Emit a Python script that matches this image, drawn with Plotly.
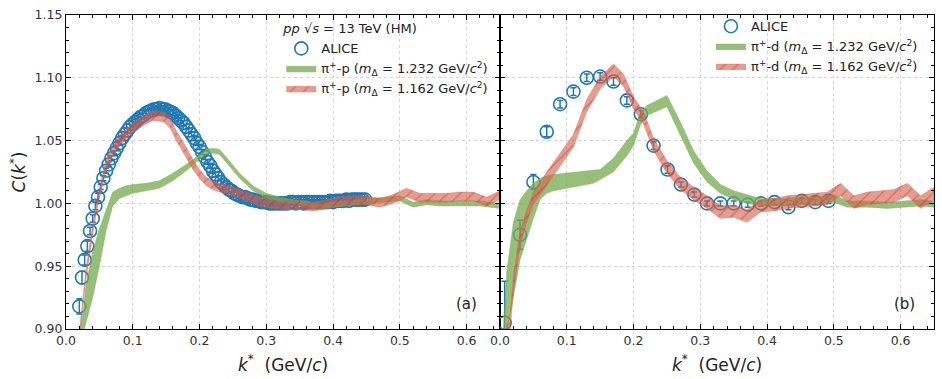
import plotly.graph_objects as go

# ---------------- data: panel (a)  pi+ - p ----------------
k_p = [0.020, 0.024, 0.028, 0.032, 0.036, 0.040, 0.044, 0.048, 0.052, 0.056,
       0.060, 0.064, 0.068, 0.072, 0.076, 0.080, 0.084, 0.088, 0.092, 0.096,
       0.100, 0.104, 0.108, 0.112, 0.116, 0.120, 0.124, 0.128, 0.132, 0.136,
       0.140, 0.144, 0.148, 0.152, 0.156, 0.160, 0.164, 0.168, 0.172, 0.176,
       0.180, 0.184, 0.188, 0.192, 0.196, 0.200, 0.204, 0.208, 0.212, 0.216,
       0.220, 0.224, 0.228, 0.232, 0.236, 0.240, 0.244, 0.248, 0.252, 0.256,
       0.260, 0.264, 0.268, 0.272, 0.276, 0.280, 0.284, 0.288, 0.292, 0.296,
       0.300, 0.304, 0.308, 0.312, 0.316, 0.320, 0.324, 0.328, 0.332, 0.336,
       0.340, 0.344, 0.348, 0.352, 0.356, 0.360, 0.364, 0.368, 0.372, 0.376,
       0.380, 0.384, 0.388, 0.392, 0.396, 0.400, 0.404, 0.408, 0.412, 0.416,
       0.420, 0.424, 0.428, 0.432, 0.436, 0.440, 0.444, 0.448]
c_p = [0.918, 0.941, 0.955, 0.966, 0.978, 0.988, 0.998, 1.005, 1.013, 1.020,
       1.026, 1.031, 1.036, 1.040, 1.044, 1.048, 1.052, 1.055, 1.058, 1.061,
       1.063, 1.065, 1.067, 1.069, 1.070, 1.072, 1.073, 1.074, 1.075, 1.075,
       1.076, 1.075, 1.075, 1.074, 1.073, 1.072, 1.070, 1.068, 1.066, 1.064,
       1.061, 1.058, 1.055, 1.052, 1.048, 1.045, 1.041, 1.037, 1.033, 1.030,
       1.026, 1.023, 1.020, 1.017, 1.015, 1.013, 1.011, 1.010, 1.008, 1.007,
       1.006, 1.005, 1.005, 1.004, 1.003, 1.003, 1.002, 1.002, 1.001, 1.001,
       1.001, 1.000, 1.000, 1.000, 1.000, 1.000, 1.000, 1.000, 1.000, 1.001,
       1.001, 1.000, 1.001, 1.001, 1.000, 1.001, 1.001, 1.001, 1.001, 1.001,
       1.001, 1.001, 1.001, 1.001, 1.002, 1.001, 1.002, 1.002, 1.002, 1.002,
       1.003, 1.002, 1.003, 1.003, 1.003, 1.003, 1.003, 1.003]
e_p = [0.006, 0.005, 0.004, 0.004, 0.003, 0.003, 0.003, 0.003, 0.002, 0.002,
       0.002, 0.002, 0.002, 0.002, 0.002, 0.002, 0.002, 0.002, 0.002, 0.002,
       0.002, 0.002, 0.002, 0.002, 0.002, 0.002, 0.002, 0.002, 0.002, 0.002,
       0.002, 0.002, 0.002, 0.002, 0.002, 0.002, 0.002, 0.002, 0.002, 0.002,
       0.002, 0.002, 0.002, 0.002, 0.002, 0.002, 0.002, 0.002, 0.002, 0.002,
       0.002, 0.002, 0.002, 0.002, 0.002, 0.002, 0.002, 0.002, 0.002, 0.002,
       0.002, 0.002, 0.002, 0.002, 0.002, 0.002, 0.002, 0.002, 0.002, 0.002,
       0.002, 0.002, 0.002, 0.002, 0.002, 0.002, 0.002, 0.002, 0.002, 0.002,
       0.002, 0.002, 0.002, 0.002, 0.002, 0.002, 0.002, 0.002, 0.002, 0.002,
       0.002, 0.002, 0.002, 0.002, 0.002, 0.002, 0.002, 0.002, 0.002, 0.002,
       0.002, 0.002, 0.002, 0.002, 0.002, 0.002, 0.002, 0.002]

# model pi+-p, m_Delta = 1.232 (green band)
kg_p = [0.020, 0.025, 0.030, 0.040, 0.050, 0.060, 0.070, 0.080, 0.090, 0.100,
        0.120, 0.140, 0.160, 0.180, 0.200, 0.210, 0.220, 0.230, 0.240, 0.260,
        0.280, 0.300, 0.320, 0.340, 0.360, 0.380, 0.400, 0.420, 0.440, 0.460,
        0.480, 0.500, 0.520, 0.540, 0.560, 0.580, 0.600, 0.620, 0.650]
g_lo_p = [0.880, 0.895, 0.905, 0.925, 0.950, 0.978, 0.998, 1.004, 1.006, 1.008,
          1.010, 1.012, 1.018, 1.026, 1.035, 1.039, 1.040, 1.039, 1.033, 1.020,
          1.010, 1.004, 1.001, 1.000, 0.998, 0.995, 0.997, 0.998, 0.999, 1.000,
          1.001, 1.002, 0.997, 0.999, 0.998, 0.998, 0.998, 0.998, 0.996]
g_hi_p = [0.895, 0.912, 0.935, 0.962, 0.980, 0.995, 1.009, 1.012, 1.014, 1.015,
          1.016, 1.018, 1.024, 1.031, 1.039, 1.043, 1.044, 1.043, 1.037, 1.024,
          1.014, 1.008, 1.005, 1.003, 1.002, 0.999, 1.001, 1.002, 1.003, 1.004,
          1.005, 1.006, 1.001, 1.003, 1.002, 1.002, 1.002, 1.002, 1.000]

# model pi+-p, m_Delta = 1.162 (red hatched band)
kr_p = [0.020, 0.025, 0.030, 0.036, 0.041, 0.048, 0.060, 0.070, 0.080, 0.090,
        0.100, 0.116, 0.130, 0.146, 0.156, 0.166, 0.171, 0.180, 0.190, 0.200,
        0.210, 0.220, 0.230, 0.240, 0.250, 0.270, 0.290, 0.310, 0.330, 0.350,
        0.370, 0.390, 0.410, 0.430, 0.450, 0.470, 0.490, 0.510, 0.530, 0.550,
        0.570, 0.590, 0.610, 0.630, 0.650]
r_lo_p = [0.890, 0.918, 0.940, 0.961, 0.979, 0.999, 1.027, 1.038, 1.046, 1.051,
          1.056, 1.062, 1.066, 1.065, 1.060, 1.049, 1.045, 1.037, 1.027, 1.020,
          1.014, 1.011, 1.009, 1.008, 1.006, 1.002, 0.998, 0.996, 0.995, 0.995,
          0.994, 0.996, 0.998, 0.999, 0.999, 0.997, 1.000, 1.005, 1.001, 1.001,
          1.001, 1.002, 1.002, 0.998, 1.003]
r_hi_p = [0.898, 0.926, 0.948, 0.969, 0.987, 1.007, 1.035, 1.046, 1.054, 1.059,
          1.064, 1.070, 1.074, 1.073, 1.068, 1.057, 1.053, 1.045, 1.035, 1.027,
          1.021, 1.018, 1.016, 1.015, 1.013, 1.009, 1.005, 1.003, 1.002, 1.002,
          1.001, 1.003, 1.005, 1.006, 1.006, 1.004, 1.007, 1.012, 1.008, 1.008,
          1.008, 1.009, 1.009, 1.005, 1.010]

# ---------------- data: panel (b)  pi+ - d ----------------
k_d = [0.007, 0.030, 0.050, 0.070, 0.090, 0.110, 0.130, 0.150, 0.170, 0.190,
       0.211, 0.230, 0.251, 0.271, 0.291, 0.310, 0.330, 0.350, 0.371, 0.391,
       0.411, 0.432, 0.452, 0.472, 0.492]
c_d = [0.905, 0.975, 1.017, 1.057, 1.079, 1.089, 1.100, 1.101, 1.097, 1.082,
       1.071, 1.046, 1.027, 1.015, 1.007, 1.000, 1.000, 1.000, 0.999, 1.000,
       1.001, 0.997, 1.002, 1.001, 1.002]
e_d = [0.033, 0.0115, 0.006, 0.004, 0.003, 0.003, 0.003, 0.003, 0.003, 0.003,
       0.003, 0.003, 0.003, 0.002, 0.002, 0.002, 0.002, 0.002, 0.002, 0.002,
       0.002, 0.002, 0.002, 0.002, 0.002]

kg_d = [0.005, 0.010, 0.020, 0.030, 0.040, 0.050, 0.060, 0.070, 0.080, 0.100,
        0.120, 0.140, 0.150, 0.170, 0.190, 0.200, 0.210, 0.220, 0.250, 0.270,
        0.290, 0.310, 0.330, 0.350, 0.370, 0.390, 0.410, 0.430, 0.450, 0.470,
        0.490, 0.500, 0.520, 0.550, 0.580, 0.600, 0.630, 0.650]
g_lo_d = [0.860, 0.900, 0.925, 0.955, 0.972, 0.988, 1.003, 1.008, 1.010, 1.012,
          1.014, 1.016, 1.019, 1.025, 1.038, 1.046, 1.062, 1.070, 1.077, 1.055,
          1.032, 1.017, 1.008, 1.003, 1.000, 0.998, 0.998, 0.998, 0.999, 0.999,
          1.000, 1.001, 0.997, 0.997, 0.996, 0.997, 0.998, 0.997]
g_hi_d = [0.900, 0.945, 0.985, 1.003, 1.010, 1.016, 1.020, 1.022, 1.023, 1.024,
          1.025, 1.026, 1.027, 1.036, 1.050, 1.056, 1.072, 1.078, 1.086, 1.065,
          1.042, 1.026, 1.015, 1.010, 1.007, 1.004, 1.004, 1.004, 1.005, 1.005,
          1.006, 1.007, 1.002, 1.002, 1.001, 1.002, 1.003, 1.002]

kr_d = [0.010, 0.015, 0.020, 0.030, 0.040, 0.050, 0.070, 0.090, 0.110, 0.130,
        0.150, 0.170, 0.185, 0.200, 0.215, 0.230, 0.250, 0.270, 0.290, 0.310,
        0.330, 0.350, 0.370, 0.390, 0.410, 0.430, 0.450, 0.470, 0.490, 0.510,
        0.530, 0.550, 0.570, 0.590, 0.610, 0.630, 0.650]
r_lo_d = [0.888, 0.898, 0.928, 0.966, 0.985, 0.999, 1.015, 1.030, 1.045, 1.073,
          1.091, 1.101, 1.093, 1.075, 1.063, 1.042, 1.024, 1.011, 1.003, 0.996,
          0.988, 0.989, 0.985, 0.993, 0.994, 0.996, 0.997, 0.998, 0.999, 1.006,
          0.996, 0.999, 1.000, 1.001, 1.006, 0.996, 1.003]
r_hi_d = [0.902, 0.912, 0.942, 0.978, 0.995, 1.009, 1.025, 1.040, 1.055, 1.083,
          1.101, 1.111, 1.103, 1.085, 1.073, 1.052, 1.034, 1.021, 1.013, 1.006,
          0.998, 0.999, 0.995, 1.003, 1.004, 1.006, 1.007, 1.008, 1.009, 1.016,
          1.006, 1.009, 1.010, 1.011, 1.016, 1.006, 1.013]

legend_title = "<i>pp</i> \u221a<i>s</i> = 13 TeV (HM)"
name_alice = "ALICE"
names_p = ["\u03c0<sup>+</sup>-p (<i>m</i><sub>\u0394</sub> = 1.232 GeV/<i>c</i><sup>2</sup>)",
           "\u03c0<sup>+</sup>-p (<i>m</i><sub>\u0394</sub> = 1.162 GeV/<i>c</i><sup>2</sup>)"]
names_d = ["\u03c0<sup>+</sup>-d (<i>m</i><sub>\u0394</sub> = 1.232 GeV/<i>c</i><sup>2</sup>)",
           "\u03c0<sup>+</sup>-d (<i>m</i><sub>\u0394</sub> = 1.162 GeV/<i>c</i><sup>2</sup>)"]

BLUE = "#1f77b4"
GREEN_FILL = "rgba(118,170,78,0.75)"
RED_BG = "rgba(214,96,77,0.62)"
RED_FG = "rgba(185,45,35,0.85)"

fig = go.Figure()


def add_panel(k, c, e, kg, glo, ghi, kr, rlo, rhi, names, xa, ya, leg, grp):
    fig.add_trace(go.Scatter(
        x=k, y=c, mode="markers", name=name_alice,
        marker=dict(symbol="circle-open", size=13, color=BLUE, line=dict(width=1.6, color=BLUE)),
        error_y=dict(type="data", array=e, visible=True, color=BLUE, thickness=1.5, width=3),
        xaxis=xa, yaxis=ya, legend=leg, legendgroup=grp + "a"))
    fig.add_trace(go.Scatter(
        x=kg + kg[::-1], y=ghi + glo[::-1], mode="lines", fill="toself",
        fillcolor=GREEN_FILL, line=dict(width=0.5, color=GREEN_FILL),
        name=names[0], xaxis=xa, yaxis=ya, legend=leg, legendgroup=grp + "g"))
    fig.add_trace(go.Scatter(
        x=kr + kr[::-1], y=rhi + rlo[::-1], mode="lines", fill="toself",
        fillcolor=RED_BG, line=dict(width=0.5, color=RED_BG),
        fillpattern=dict(shape="/", bgcolor=RED_BG, fgcolor=RED_FG, size=9, solidity=0.15),
        name=names[1], xaxis=xa, yaxis=ya, legend=leg, legendgroup=grp + "r"))


add_panel(k_p, c_p, e_p, kg_p, g_lo_p, g_hi_p, kr_p, r_lo_p, r_hi_p, names_p, "x", "y", "legend", "p")
add_panel(k_d, c_d, e_d, kg_d, g_lo_d, g_hi_d, kr_d, r_lo_d, r_hi_d, names_d, "x2", "y2", "legend2", "d")

FONT = "DejaVu Sans"
TXT = "#222222"
common_x = dict(range=[0, 0.65], dtick=0.1, tick0=0, tickformat=".1f",
                ticks="inside", ticklen=5, tickwidth=1, tickcolor="black",
                mirror="allticks", showline=True, linecolor="black", linewidth=1.3,
                minor=dict(ticks="inside", ticklen=3, dtick=0.02, tickcolor="black", showgrid=False),
                showgrid=True, gridcolor="#d4d4d4", griddash="dot", gridwidth=1,
                zeroline=False, tickfont=dict(size=12.5, color="#333333", family=FONT),
                title=dict(text="<i>k</i><sup>*</sup>  (GeV/<i>c</i>)", font=dict(size=17, color=TXT, family=FONT), standoff=11))
common_y = dict(range=[0.90, 1.15], dtick=0.05, tick0=0.9, tickformat=".2f",
                ticks="inside", ticklen=5, tickwidth=1, tickcolor="black",
                mirror="allticks", showline=True, linecolor="black", linewidth=1.3,
                minor=dict(ticks="inside", ticklen=3, dtick=0.01, tickcolor="black", showgrid=False),
                showgrid=True, gridcolor="#d4d4d4", griddash="dot", gridwidth=1,
                zeroline=False, tickfont=dict(size=12.5, color="#333333", family=FONT))

fig.update_layout(
    width=942, height=379,
    margin=dict(l=66, r=7, t=11, b=50),
    paper_bgcolor="white", plot_bgcolor="white",
    font=dict(family=FONT, color=TXT),
    xaxis=dict(domain=[0, 0.5], anchor="y", **common_x),
    xaxis2=dict(domain=[0.5, 1.0], anchor="y2", **common_x),
    yaxis=dict(domain=[0, 1], anchor="x",
               title=dict(text="<i>C</i>(<i>k</i><sup>*</sup>)", font=dict(size=17, color=TXT, family=FONT), standoff=4),
               **common_y),
    yaxis2=dict(domain=[0, 1], anchor="x2", matches="y", showticklabels=False, **common_y),
    legend=dict(x=0.248, y=0.995, xanchor="left", yanchor="top",
                bgcolor="rgba(0,0,0,0)", borderwidth=0, tracegroupgap=0,
                font=dict(size=13, family=FONT, color=TXT),
                title=dict(text=legend_title, side="top", font=dict(size=13, family=FONT, color=TXT))),
    legend2=dict(x=0.743, y=1.012, xanchor="left", yanchor="top",
                 bgcolor="rgba(0,0,0,0)", borderwidth=0, tracegroupgap=0,
                 font=dict(size=13, family=FONT, color=TXT)),
    annotations=[
        dict(text="(a)", x=0.600, y=0.9196, xref="x", yref="y", showarrow=False,
             font=dict(size=15, family=FONT, color=TXT)),
        dict(text="(b)", x=0.606, y=0.9196, xref="x2", yref="y2", showarrow=False,
             font=dict(size=15, family=FONT, color=TXT)),
    ],
)

fig.write_html("out.html")
